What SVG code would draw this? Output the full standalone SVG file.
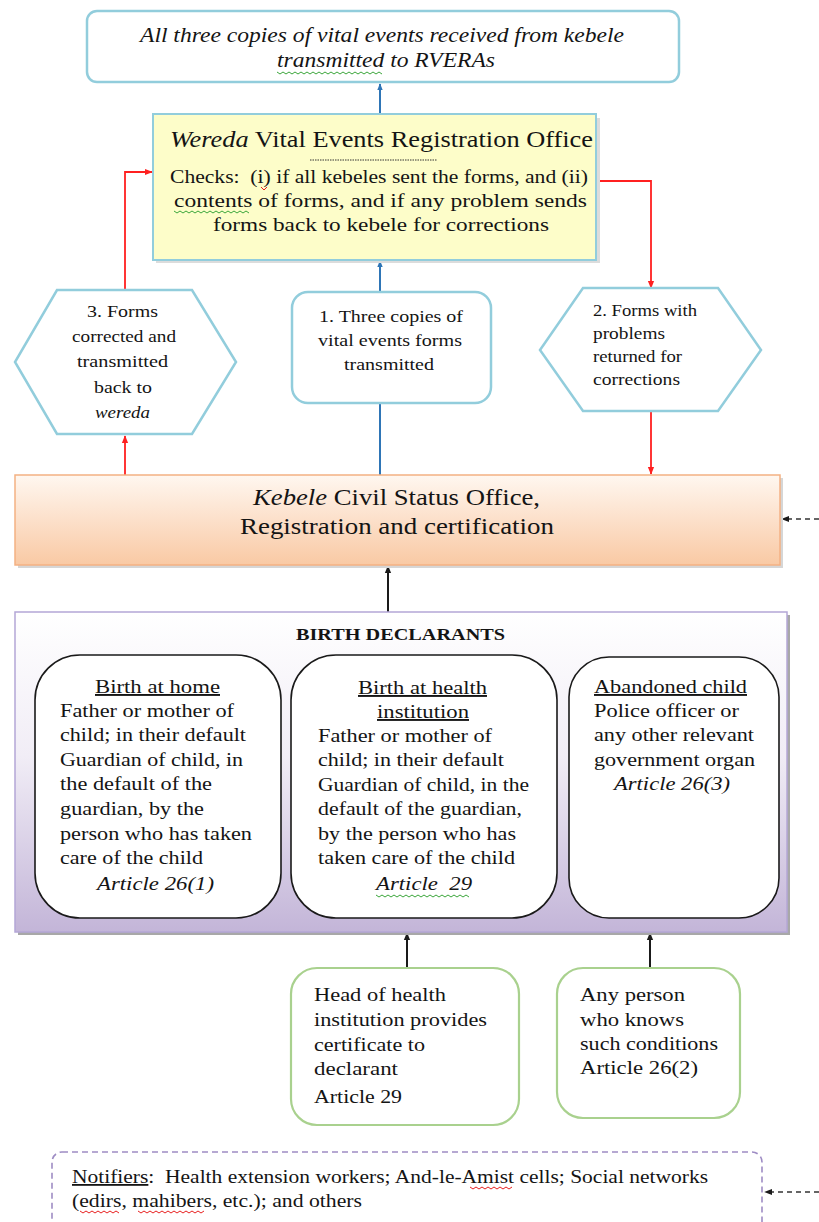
<svg xmlns="http://www.w3.org/2000/svg" width="819" height="1222" viewBox="0 0 819 1222">
  <defs>
    <style>
      text { font-family: "Liberation Serif", "Times New Roman", serif; fill: #141414; }
      .it { font-style: italic; }
      .blue { fill: #ffffff; stroke: #92cddc; stroke-width: 2.5; }
      .inner { fill: #ffffff; stroke: #1a1a1a; stroke-width: 1.6; }
      .green { fill: #ffffff; stroke: #a9d18e; stroke-width: 2.2; }
      .lnB { stroke: #2e75b6; stroke-width: 2; fill: none; }
      .lnR { stroke: #ff2020; stroke-width: 1.8; fill: none; }
      .lnK { stroke: #1a1a1a; stroke-width: 2; fill: none; }
      .lnD { stroke: #333; stroke-width: 1.6; fill: none; stroke-dasharray: 5 4; }
      .sqG { stroke: #3aa63a; stroke-width: 1; fill: none; }
      .sqR { stroke: #e82020; stroke-width: 1; fill: none; }
    </style>
    <marker id="aB" viewBox="0 0 10 10" refX="9" refY="5" markerWidth="7" markerHeight="7" orient="auto" markerUnits="userSpaceOnUse">
      <path d="M0,1 L10,5 L0,9 z" fill="#2e75b6"/>
    </marker>
    <marker id="aR" viewBox="0 0 10 10" refX="9" refY="5" markerWidth="8" markerHeight="8" orient="auto" markerUnits="userSpaceOnUse">
      <path d="M0,1 L10,5 L0,9 z" fill="#ff2020"/>
    </marker>
    <marker id="aK" viewBox="0 0 10 10" refX="9" refY="5" markerWidth="8" markerHeight="8" orient="auto" markerUnits="userSpaceOnUse">
      <path d="M0,1 L10,5 L0,9 z" fill="#1a1a1a"/>
    </marker>
    <linearGradient id="peach" x1="0" y1="0" x2="0" y2="1">
      <stop offset="0" stop-color="#fff7f0"/>
      <stop offset="1" stop-color="#f9c9a4"/>
    </linearGradient>
    <linearGradient id="lav" x1="0" y1="0" x2="0" y2="1">
      <stop offset="0" stop-color="#ffffff"/>
      <stop offset="0.45" stop-color="#f1edf6"/>
      <stop offset="1" stop-color="#c3b5d8"/>
    </linearGradient>
  </defs>

  <rect width="819" height="1222" fill="#ffffff"/>

  <!-- connectors -->
  <g id="connectors">
    <line class="lnB" x1="380" y1="114" x2="380" y2="84" marker-end="url(#aB)"/>
    <line class="lnB" x1="380" y1="292" x2="380" y2="261" marker-end="url(#aB)"/>
    <line class="lnB" x1="380" y1="403" x2="380" y2="475"/>
    <polyline class="lnR" points="125,290 125,172 152,172" marker-end="url(#aR)"/>
    <polyline class="lnR" points="597,181 651,181 651,288" marker-end="url(#aR)"/>
    <line class="lnR" x1="125" y1="475" x2="125" y2="436" marker-end="url(#aR)"/>
    <line class="lnR" x1="651" y1="411" x2="651" y2="474" marker-end="url(#aR)"/>
    <line class="lnK" x1="388" y1="612" x2="388" y2="566" marker-end="url(#aK)"/>
    <line class="lnK" x1="407" y1="968" x2="407" y2="933" marker-end="url(#aK)"/>
    <line class="lnK" x1="650" y1="968" x2="650" y2="933" marker-end="url(#aK)"/>
    <line class="lnD" x1="819" y1="519" x2="782" y2="519" marker-end="url(#aK)"/>
    <line class="lnD" x1="819" y1="1192" x2="765" y2="1192" marker-end="url(#aK)"/>
  </g>

  <!-- regional transmission -->
  <g id="rvera">
    <rect class="blue" x="87" y="11" width="592" height="71" rx="10"/>
    <text class="it" x="140" y="42" font-size="21" textLength="484" lengthAdjust="spacingAndGlyphs">All three copies of vital events received from kebele</text>
    <text class="it" x="277" y="67" font-size="21" textLength="218" lengthAdjust="spacingAndGlyphs">transmitted to RVERAs</text>
    <path class="sqG" d="M277,72 l3,2 l3,-2 l3,2 l3,-2 l3,2 l3,-2 l3,2 l3,-2 l3,2 l3,-2 l3,2 l3,-2 l3,2 l3,-2 l3,2 l3,-2 l3,2 l3,-2 l3,2 l3,-2 l3,2 l3,-2 l3,2 l3,-2 l3,2 l3,-2 l3,2 l3,-2 l3,2 l3,-2 l3,2 l3,-2 l3,2 l3,-2 l3,2"/>
  </g>

  <!-- wereda office -->
  <g id="wereda">
    <rect x="156" y="118" width="444" height="145" fill="#dcdcdc"/>
    <rect x="153" y="114" width="443" height="146" fill="#fdfdc9" stroke="#92cddc" stroke-width="2"/>
    <text x="170" y="147" font-size="23" textLength="423" lengthAdjust="spacingAndGlyphs"><tspan class="it">Wereda</tspan> Vital Events Registration Office</text>
    <line x1="310" y1="160" x2="437" y2="160" stroke="#333" stroke-width="1" stroke-dasharray="1.5 1"/>
    <text x="170" y="183" font-size="19" textLength="418" lengthAdjust="spacingAndGlyphs" xml:space="preserve">Checks:  (i) if all kebeles sent the forms, and (ii)</text>
    <text x="174" y="207" font-size="19" textLength="413" lengthAdjust="spacingAndGlyphs">contents of forms, and if any problem sends</text>
    <text x="213" y="231" font-size="19" textLength="336" lengthAdjust="spacingAndGlyphs">forms back to kebele for corrections</text>
    <path class="sqR" d="M261,187 l3,3 l3,-3"/>
    <path class="sqG" d="M174,211 l3,2 l3,-2 l3,2 l3,-2 l3,2 l3,-2 l3,2 l3,-2 l3,2 l3,-2 l3,2 l3,-2 l3,2 l3,-2 l3,2 l3,-2 l3,2 l3,-2 l3,2 l3,-2 l3,2 l3,-2 l3,2 l3,-2 l3,2"/>
  </g>

  <!-- step 3 -->
  <g id="step3">
    <polygon class="blue" points="57,290 192,290 236,362 192,434 57,434 15,362"/>
    <text x="87" y="317" font-size="17" textLength="71" lengthAdjust="spacingAndGlyphs">3. Forms</text>
    <text x="72" y="342" font-size="17" textLength="104" lengthAdjust="spacingAndGlyphs">corrected and</text>
    <text x="77" y="367" font-size="17" textLength="91" lengthAdjust="spacingAndGlyphs">transmitted</text>
    <text x="94" y="393" font-size="17" textLength="58" lengthAdjust="spacingAndGlyphs">back to</text>
    <text class="it" x="95" y="418" font-size="17" textLength="55" lengthAdjust="spacingAndGlyphs">wereda</text>
  </g>

  <!-- step 1 -->
  <g id="step1">
    <rect class="blue" x="292" y="292" width="199" height="111" rx="16"/>
    <text x="319" y="322" font-size="17" textLength="144" lengthAdjust="spacingAndGlyphs">1. Three copies of</text>
    <text x="318" y="346" font-size="17" textLength="144" lengthAdjust="spacingAndGlyphs">vital events forms</text>
    <text x="344" y="370" font-size="17" textLength="90" lengthAdjust="spacingAndGlyphs">transmitted</text>
  </g>

  <!-- step 2 -->
  <g id="step2">
    <polygon class="blue" points="583,288 718,288 761,350 718,411 583,411 540,350"/>
    <text x="593" y="316" font-size="16" textLength="104" lengthAdjust="spacingAndGlyphs">2. Forms with</text>
    <text x="593" y="339" font-size="16" textLength="72" lengthAdjust="spacingAndGlyphs">problems</text>
    <text x="593" y="362" font-size="16" textLength="89" lengthAdjust="spacingAndGlyphs">returned for</text>
    <text x="593" y="385" font-size="16" textLength="87" lengthAdjust="spacingAndGlyphs">corrections</text>
  </g>

  <!-- kebele office -->
  <g id="kebele">
    <rect x="18" y="478" width="765" height="90" fill="#d6d6d6"/>
    <rect x="15" y="475" width="765" height="90" fill="url(#peach)" stroke="#f4b183" stroke-width="1.5"/>
    <text x="253" y="505" font-size="23" textLength="287" lengthAdjust="spacingAndGlyphs"><tspan class="it">Kebele</tspan> Civil Status Office,</text>
    <text x="240" y="534" font-size="23" textLength="314" lengthAdjust="spacingAndGlyphs">Registration and certification</text>
  </g>

  <!-- birth declarants -->
  <g id="declarants">
    <rect x="18" y="615" width="772" height="320" fill="#a8a8a8"/>
    <rect x="15" y="612" width="772" height="320" fill="url(#lav)" stroke="#b4a7d6" stroke-width="1.5"/>
    <text x="296" y="640" font-size="17" font-weight="bold" textLength="209" lengthAdjust="spacingAndGlyphs">BIRTH DECLARANTS</text>
  </g>

  <g id="home">
    <rect class="inner" x="35" y="655" width="246" height="263" rx="45"/>
    <text x="95" y="693" font-size="19" text-decoration="underline" textLength="125" lengthAdjust="spacingAndGlyphs">Birth at home</text>
    <text x="60" y="717" font-size="19" textLength="174" lengthAdjust="spacingAndGlyphs">Father or mother of</text>
    <text x="60" y="741" font-size="19" textLength="186" lengthAdjust="spacingAndGlyphs">child; in their default</text>
    <text x="60" y="766" font-size="19" textLength="183" lengthAdjust="spacingAndGlyphs">Guardian of child, in</text>
    <text x="60" y="790" font-size="19" textLength="152" lengthAdjust="spacingAndGlyphs">the default of the</text>
    <text x="60" y="815" font-size="19" textLength="144" lengthAdjust="spacingAndGlyphs">guardian, by the</text>
    <text x="60" y="840" font-size="19" textLength="192" lengthAdjust="spacingAndGlyphs">person who has taken</text>
    <text x="60" y="864" font-size="19" textLength="143" lengthAdjust="spacingAndGlyphs">care of the child</text>
    <text class="it" x="97" y="890" font-size="19" textLength="117" lengthAdjust="spacingAndGlyphs">Article 26(1)</text>
  </g>

  <g id="health">
    <rect class="inner" x="291" y="655" width="266" height="263" rx="45"/>
    <text x="358" y="694" font-size="19" text-decoration="underline" textLength="129" lengthAdjust="spacingAndGlyphs">Birth at health</text>
    <text x="377" y="718" font-size="19" text-decoration="underline" textLength="92" lengthAdjust="spacingAndGlyphs">institution</text>
    <text x="318" y="742" font-size="19" textLength="174" lengthAdjust="spacingAndGlyphs">Father or mother of</text>
    <text x="318" y="766" font-size="19" textLength="186" lengthAdjust="spacingAndGlyphs">child; in their default</text>
    <text x="318" y="791" font-size="19" textLength="211" lengthAdjust="spacingAndGlyphs">Guardian of child, in the</text>
    <text x="318" y="815" font-size="19" textLength="204" lengthAdjust="spacingAndGlyphs">default of the guardian,</text>
    <text x="318" y="840" font-size="19" textLength="198" lengthAdjust="spacingAndGlyphs">by the person who has</text>
    <text x="318" y="864" font-size="19" textLength="197" lengthAdjust="spacingAndGlyphs">taken care of the child</text>
    <text class="it" x="376" y="890" font-size="19" textLength="96" lengthAdjust="spacingAndGlyphs" xml:space="preserve">Article  29</text>
    <path class="sqG" d="M376,895 l3,2 l3,-2 l3,2 l3,-2 l3,2 l3,-2 l3,2 l3,-2 l3,2 l3,-2 l3,2 l3,-2 l3,2 l3,-2 l3,2 l3,-2 l3,2 l3,-2 l3,2 l3,-2 l3,2 l3,-2 l3,2 l3,-2 l3,2 l3,-2 l3,2 l3,-2 l3,2 l3,-2 l3,2"/>
  </g>

  <g id="abandoned">
    <rect class="inner" x="569" y="657" width="210" height="261" rx="40"/>
    <text x="594" y="693" font-size="19" text-decoration="underline" textLength="153" lengthAdjust="spacingAndGlyphs">Abandoned child</text>
    <text x="594" y="717" font-size="19" textLength="145" lengthAdjust="spacingAndGlyphs">Police officer or</text>
    <text x="594" y="741" font-size="19" textLength="160" lengthAdjust="spacingAndGlyphs">any other relevant</text>
    <text x="594" y="766" font-size="19" textLength="161" lengthAdjust="spacingAndGlyphs">government organ</text>
    <text class="it" x="614" y="790" font-size="19" textLength="116" lengthAdjust="spacingAndGlyphs">Article 26(3)</text>
  </g>

  <!-- supporting notifiers -->
  <g id="head-of-institution">
    <rect class="green" x="291" y="968" width="228" height="157" rx="26"/>
    <text x="314" y="1001" font-size="18.5" textLength="132" lengthAdjust="spacingAndGlyphs">Head of health</text>
    <text x="314" y="1026" font-size="18.5" textLength="173" lengthAdjust="spacingAndGlyphs">institution provides</text>
    <text x="314" y="1051" font-size="18.5" textLength="111" lengthAdjust="spacingAndGlyphs">certificate to</text>
    <text x="314" y="1075" font-size="18.5" textLength="84" lengthAdjust="spacingAndGlyphs">declarant</text>
    <text x="314" y="1103" font-size="18.5" textLength="88" lengthAdjust="spacingAndGlyphs">Article 29</text>
  </g>

  <g id="any-person">
    <rect class="green" x="557" y="968" width="183" height="150" rx="26"/>
    <text x="580" y="1001" font-size="18.5" textLength="105" lengthAdjust="spacingAndGlyphs">Any person</text>
    <text x="580" y="1026" font-size="18.5" textLength="104" lengthAdjust="spacingAndGlyphs">who knows</text>
    <text x="580" y="1050" font-size="18.5" textLength="138" lengthAdjust="spacingAndGlyphs">such conditions</text>
    <text x="580" y="1074" font-size="18.5" textLength="118" lengthAdjust="spacingAndGlyphs">Article 26(2)</text>
  </g>

  <g id="notifiers">
    <rect x="52" y="1152" width="710" height="90" rx="10" fill="#ffffff" stroke="#9e8cc4" stroke-width="1.6" stroke-dasharray="6 4"/>
    <text x="72" y="1183" font-size="18" textLength="636" lengthAdjust="spacingAndGlyphs" xml:space="preserve"><tspan text-decoration="underline">Notifiers</tspan>:  Health extension workers; And-le-Amist cells; Social networks</text>
    <text x="72" y="1207" font-size="18" textLength="290" lengthAdjust="spacingAndGlyphs">(edirs, mahibers, etc.); and others</text>
    <path class="sqR" d="M470,1187 l3,2 l3,-2 l3,2 l3,-2 l3,2 l3,-2 l3,2 l3,-2 l3,2 l3,-2 l3,2 l3,-2 l3,2 l3,-2"/>
    <path class="sqR" d="M80,1211 l3,2 l3,-2 l3,2 l3,-2 l3,2 l3,-2 l3,2 l3,-2 l3,2 l3,-2 l3,2 l3,-2 l3,2"/>
    <path class="sqR" d="M138,1211 l3,2 l3,-2 l3,2 l3,-2 l3,2 l3,-2 l3,2 l3,-2 l3,2 l3,-2 l3,2 l3,-2 l3,2 l3,-2 l3,2 l3,-2 l3,2 l3,-2 l3,2 l3,-2 l3,2 l3,-2"/>
  </g>
</svg>
